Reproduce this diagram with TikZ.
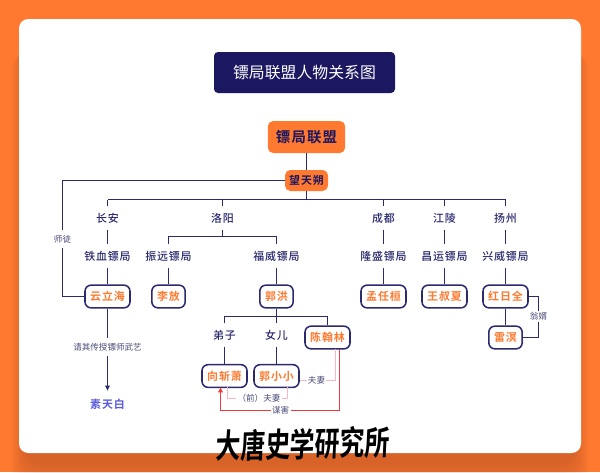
\documentclass[tikz,border=0pt]{standalone}
\usepackage{fontspec}
\usepackage{xcolor}
\usetikzlibrary{arrows.meta}
\setmainfont{Liberation Sans}
\newfontfamily\cjk{Noto Sans CJK SC}
\newfontfamily\cjkwide[LetterSpace=8]{Noto Sans CJK SC Medium}
\newfontfamily\cjkbold[LetterSpace=8]{Noto Sans CJK SC Bold}
\newfontfamily\cjksign{Noto Sans CJK SC Bold}
\definecolor{orangebg}{HTML}{FF7A30}
\definecolor{navy}{HTML}{1B1760}
\definecolor{linecol}{HTML}{2B2A6E}
\definecolor{redline}{HTML}{EE3A3F}
\definecolor{pinkline}{HTML}{F7B9BB}
\definecolor{bluetxt}{HTML}{5A5CE0}
\definecolor{greytxt}{HTML}{4A4A7A}
\tikzset{
  line/.style={draw=linecol, line width=1.3pt},
  redln/.style={draw=redline, line width=1.3pt},
  pinkln/.style={draw=pinkline, line width=1.3pt},
  head/.style={fill=orangebg, rounded corners=4pt, inner sep=0pt, text=navy},
  lbl/.style={text=linecol, font=\cjkwide\fontsize{8.2}{10}\selectfont, fill=white, inner sep=0pt, minimum height=17pt},
  person/.style={draw=linecol, line width=1.15pt, fill=white, rounded corners=4.5pt, inner sep=0pt,
    minimum width=33.75pt, minimum height=17pt, text=orangebg, font=\cjkbold\fontsize{8.2}{10}\selectfont},
  note/.style={text=greytxt, fill=white, inner sep=1pt, font=\cjk\fontsize{6.4}{8}\selectfont},
  gapnote/.style={note, minimum height=13.5pt},
}
\begin{document}
\begin{tikzpicture}[x=0.75pt,y=-0.75pt]
  \useasboundingbox (0,0) rectangle (600,472);
  \fill[orangebg] (0,0) rectangle (600,472);
  % soft shade under the card
  \foreach \d in {0,2,...,14}{
    \fill[black,opacity=0.02,rounded corners=12pt] (25-\d,40+\d) rectangle (575+\d,465+2*\d);
  }
  \fill[white,rounded corners=7pt] (19,19) rectangle (581,453);

  % title
  \node[fill=navy, rounded corners=3pt, minimum width=135.75pt, minimum height=30.75pt, inner sep=0pt,
    text=white, font=\cjk\fontsize{11.9}{14}\selectfont] (title) at (304.5,72.5) {镖局联盟人物关系图};

  % top
  \node[head, minimum width=58pt, minimum height=24pt, font=\cjkbold\fontsize{10.8}{14}\selectfont] (league) at (306.5,137) {镖局联盟};
  \node[head, minimum width=32.25pt, minimum height=15.75pt, font=\cjkbold\fontsize{8.2}{10}\selectfont] (wang) at (306.5,180.5) {望天朔};
  \coordinate (hub) at (306.5,199.5);
  \coordinate (left) at (107.5,199.5);
  \coordinate (right) at (505.5,199.5);
  \draw[line] (league) -- (wang) -- (hub);
  \draw[line] (left) -- (right);

  % cities
  \foreach \nm/\xx/\txt in {changan/107.5/长安,luoyang/222.5/洛阳,chengdu/383.5/成都,jiangling/444.5/江陵,yangzhou/505.5/扬州}{
    \node[lbl] (\nm) at (\xx,218) {\txt};
    \draw[line] (\xx,199.5) -- (\nm);
  }

  % agencies
  \foreach \nm/\xx/\txt in {tiexue/107.5/铁血镖局,zhenyuan/168.5/振远镖局,fuwei/276.5/福威镖局,longsheng/383.5/隆盛镖局,changyun/444.5/昌运镖局,xingwei/505.5/兴威镖局}{
    \node[lbl] (\nm) at (\xx,256) {\txt};
  }
  \draw[line] (changan) -- (tiexue);
  \draw[line] (chengdu) -- (longsheng);
  \draw[line] (jiangling) -- (changyun);
  \draw[line] (yangzhou) -- (xingwei);
  \draw[line] (luoyang) -- (222.5,236.5);
  \draw[line] (zhenyuan) |- (fuwei.north |- 0,236.5) -- (fuwei);

  % people
  \foreach \nm/\xx/\txt in {yun/107.5/云立海,rengui/383.5/孟任桓,shu/444.5/王叔夏,hong/505.5/红日全}{
    \node[person] (\nm) at (\xx,296.5) {\txt};
  }
  \node[person, minimum width=25pt] (li) at (168.5,296.5) {李放};
  \node[person, minimum width=25pt] (guo) at (276.5,296.5) {郭洪};
  \node[person, minimum width=25pt] (lei) at (505.5,337.5) {雷溟};
  \node[person] (chen) at (327.5,337.5) {陈翰林};
  \node[person] (xiang) at (224.5,376) {向斩萧};
  \node[person] (xiao) at (276.5,376) {郭小小};
  \draw[line] (tiexue) -- (yun);
  \draw[line] (zhenyuan) -- (li);
  \draw[line] (fuwei) -- (guo);
  \draw[line] (longsheng) -- (rengui);
  \draw[line] (changyun) -- (shu);
  \draw[line] (xingwei) -- (hong);
  \draw[line] (hong) -- (lei);

  % master and pupil
  \coordinate (mleft) at (62.5,180.5);
  \draw[line] (wang) -- (mleft) |- (yun);
  \node[gapnote] (shitu) at (62.5,239) {师徒};

  % in-law
  \coordinate (wone) at (538.5,296.5);
  \coordinate (wtwo) at (538.5,337.5);
  \draw[line] (hong) -- (wone) -- (wtwo) -- (lei);
  \node[note] (wengxu) at (538.5,316.5) {翁婿};

  % guo hong's branch
  \node[lbl] (dizi) at (224.5,335) {弟子};
  \node[lbl] (nver) at (276.5,335) {女儿};
  \coordinate (bleft) at (224.5,316.5);
  \coordinate (bright) at (327.5,316.5);
  \draw[line] (guo) -- (nver) -- (xiao);
  \draw[line] (dizi) -- (bleft) -- (bright) -- (chen);
  \draw[line] (dizi) -- (xiang);

  % su tian bai
  \node[text=bluetxt, font=\cjkbold\fontsize{8.2}{10}\selectfont] (su) at (107.5,404) {素天白};
  \coordinate (sutip) at (107.5,391);
  \draw[line,-{Latex[length=4pt,width=4pt]}] (yun) -- (sutip);
  \node[gapnote] (qing) at (107.5,347) {请其传授镖师武艺};

  % couples
  \coordinate (cone) at (335.5,380.5);
  \draw[pinkln] (335.5,349) -- (cone) -- (xiao.east |- cone);
  \node[note] (fuqi) at (316.5,380.5) {夫妻};
  \draw[pinkln] (227.5,387) -- (227.5,398.5) -- (287.5,398.5) -- (287.5,387);
  \node[note] (qian) at (259,398.5) {（前）夫妻};
  \draw[redln,-{Latex[length=4pt,width=4pt]}] (339.5,349) -- (339.5,410.5) -- (220.5,410.5) -- (220.5,387);
  \node[note] (mouhai) at (280.7,410.5) {谋害};

  % signature
  \node[text=black, yscale=1.35, xslant=0.08, rotate=1, transform shape, font=\cjksign\fontsize{18.6}{22}\selectfont] (sign) at (303,444) {大唐史学研究所};
\end{tikzpicture}
\end{document}
